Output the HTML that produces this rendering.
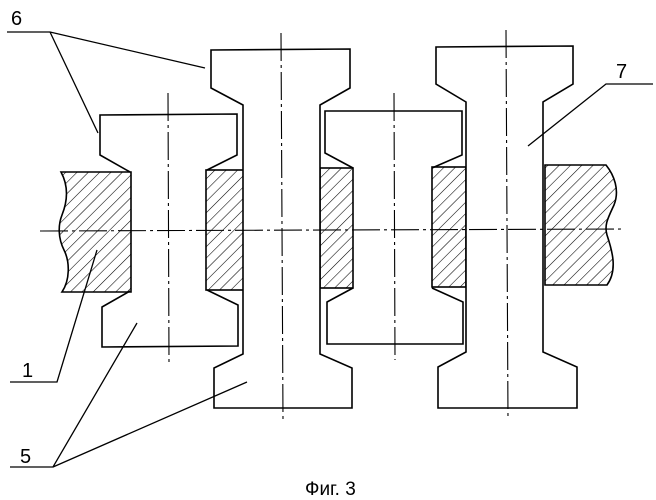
<!DOCTYPE html>
<html><head><meta charset="utf-8"><style>body{margin:0;background:#fff}svg{display:block}</style></head><body>
<svg width="656" height="500" viewBox="0 0 656 500" xmlns="http://www.w3.org/2000/svg">
<defs>
<pattern id="h" patternUnits="userSpaceOnUse" width="8" height="8" patternTransform="rotate(45)">
<line x1="0" y1="0" x2="0" y2="8" stroke="#000" stroke-width="1.1"/>
</pattern>
</defs>
<g fill="none" stroke="#000" stroke-width="1.6" stroke-linejoin="miter">
<path d="M61,172 L131,172 L131,292 L62,292 C70,280 70,262 64,250 C58,238 58,225 62,215 C68,200 68,185 61,172 Z" fill="url(#h)"/>
<rect x="206" y="170" width="38" height="120" fill="url(#h)"/>
<rect x="320" y="168" width="33" height="120" fill="url(#h)"/>
<rect x="432" y="167" width="34" height="120" fill="url(#h)"/>
<path d="M545,165 L606,165 C614,175 620,190 614,205 C608,218 604,225 607,235 C612,250 618,270 607,285 L545,285 Z" fill="url(#h)"/>
<path d="M130,172 L100,155 L100,115 L237,114 L237,155 L207,170"/>
<path d="M130,291 L102,307 L102,347 L238,346 L238,305 L207,290"/>
<path d="M243,105 L211,88 L211,50 L350,49 L350,88 L320,105 L320,354 L352,368 L352,408 L214,408 L214,368 L243,354 Z" fill="#fff"/>
<path d="M353,168 L325,153 L325,111 L462,111 L462,155 L432,168"/>
<path d="M353,288 L327,302 L327,344 L463,344 L463,302 L432,288"/>
<path d="M466,102 L436,84 L436,47 L573,46 L573,84 L543,102 L543,352 L577,367 L577,408 L438,408 L438,367 L466,352 Z" fill="#fff"/>
</g>
<g stroke="#000" stroke-width="1.1" fill="none">
<path d="M40,231 L622,229" stroke-dasharray="28,4,3,4"/>
<path d="M168,93 L169,363" stroke-dasharray="28,4,3,4"/>
<path d="M281,33 L283,420" stroke-dasharray="28,4,3,4"/>
<path d="M394,93 L395,360" stroke-dasharray="28,4,3,4"/>
<path d="M506,30 L508,420" stroke-dasharray="28,4,3,4"/>
</g>
<g stroke="#000" stroke-width="1.3" fill="none">
<path d="M7,32 L50,32 L205,68 M50,32 L98,133"/>
<path d="M653,84 L606,84 L528,146"/>
<path d="M10,382 L57,382 L97,250"/>
<path d="M10,467 L53,467 L137,323 M53,467 L247,382"/>
</g>
<g font-family="'Liberation Sans', 'DejaVu Sans', sans-serif" font-size="20" fill="#000">
<text x="11" y="25">6</text>
<text x="616" y="78">7</text>
<text x="22" y="377">1</text>
<text x="20" y="463">5</text>
<text x="305" y="495" font-size="19">Фиг. 3</text>
</g>
</svg>
</body></html>
